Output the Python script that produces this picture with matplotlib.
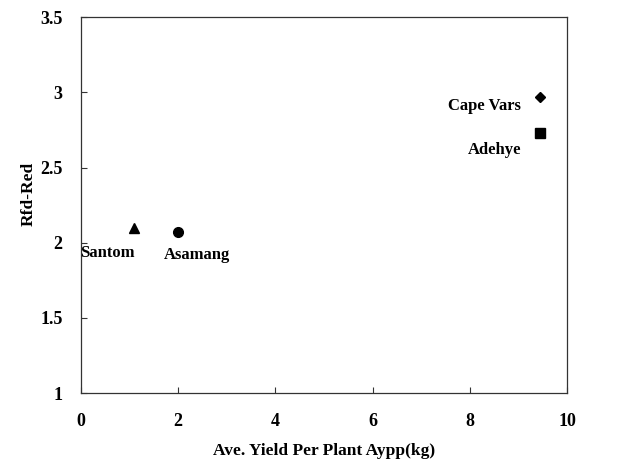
import matplotlib.pyplot as plt
import numpy as np

plt.rcParams['font.family'] = ['Liberation Serif', 'DejaVu Serif']

names = ["Santom", "Asamang", "Cape Vars", "Adehye"]
aypp = [1.1, 2.0, 9.45, 9.45]
rfd = [2.10, 2.07, 2.97, 2.73]
markers = ["^", "o", "D", "s"]
sizes = [7, 7, 5, 7]
# label offsets in pixels
offs = [(-27, -25), (19, -23), (-20, -9), (-46, -17)]
aligns = ["center", "center", "right", "center"]

fig = plt.figure(figsize=(6.26, 4.63), dpi=100)
ax = fig.add_axes([0.129, 0.151, 0.777, 0.812])

for i in range(len(names)):
    ax.plot(aypp[i], rfd[i], marker=markers[i], color="black", markersize=sizes[i], linestyle="none")
    ax.annotate(names[i], (aypp[i], rfd[i]), xytext=offs[i], textcoords="offset pixels",
                ha=aligns[i], va="center", fontsize=12, fontweight="bold")

ax.set_xlim(0, 10)
ax.set_ylim(1, 3.5)
ax.set_xticks([0, 2, 4, 6, 8, 10])
ax.set_yticks([1, 1.5, 2, 2.5, 3, 3.5])
ax.set_yticklabels(["1", "1.5", "2", "2.5", "3", "3.5"])
ax.tick_params(direction="in", length=4, labelsize=13, width=0.8, colors="#333333", labelcolor="black")
ax.tick_params(axis="x", pad=14)
ax.tick_params(axis="y", pad=13)
for lab in ax.get_xticklabels() + ax.get_yticklabels():
    lab.set_fontweight("semibold")
for s in ax.spines.values():
    s.set_color("#333333")
    s.set_linewidth(0.9)

ax.set_xlabel("Ave. Yield Per Plant Aypp(kg)", fontsize=12.5, fontweight="bold", labelpad=10)
ax.set_ylabel("Rfd-Red", fontsize=12.5, fontweight="bold")
ax.yaxis.set_label_coords(-0.09, 0.53)

plt.savefig("out.png", dpi=100)
